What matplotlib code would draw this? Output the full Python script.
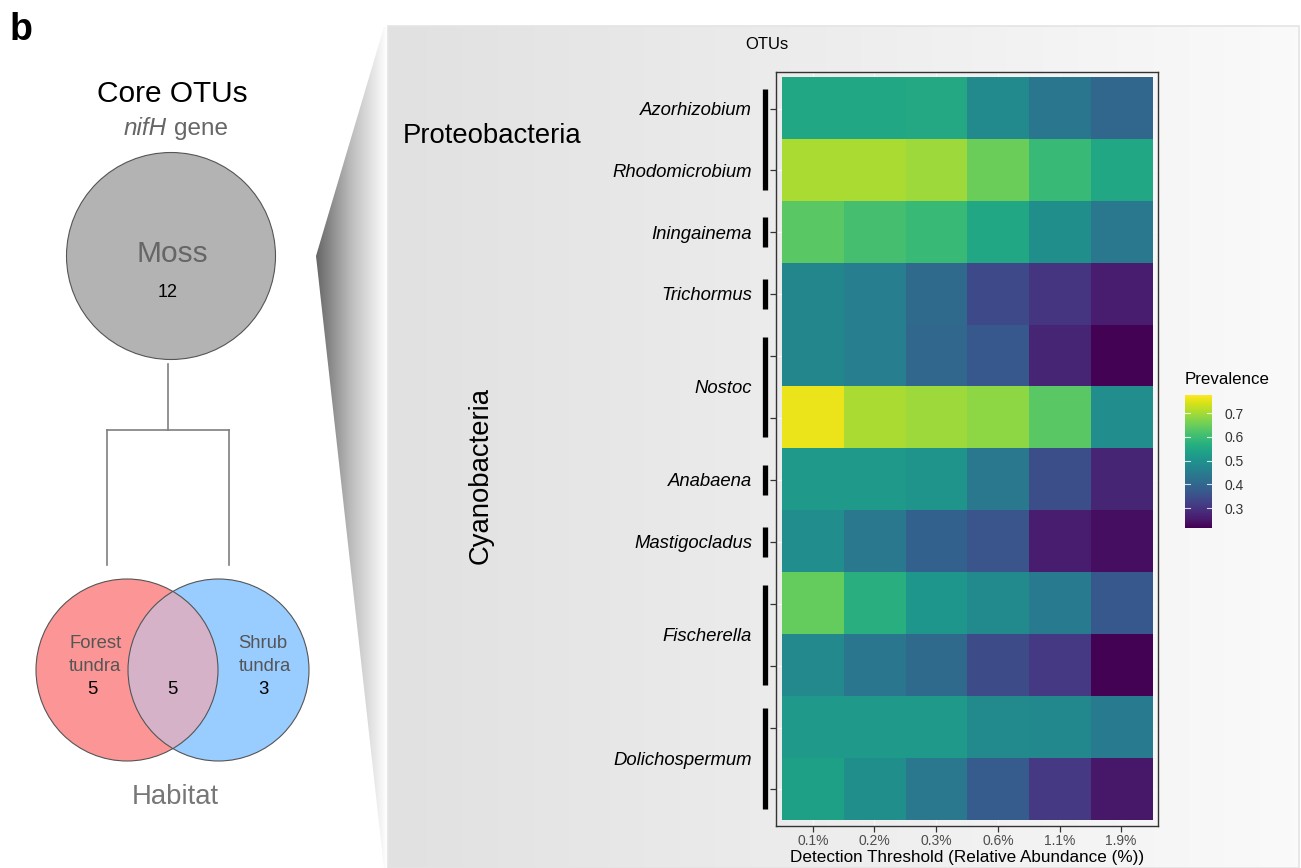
import numpy as np
import matplotlib
matplotlib.use("Agg")
import matplotlib.pyplot as plt
from matplotlib.colors import LinearSegmentedColormap
from matplotlib.patches import Ellipse, Polygon, Rectangle
import matplotlib.transforms as mtransforms

plt.rcParams['font.family'] = ['Liberation Sans', 'DejaVu Sans']

# ---- data -------------------------------------------------------------
thresholds = ['0.1%', '0.2%', '0.3%', '0.6%', '1.1%', '1.9%']

genera = ['Azorhizobium', 'Rhodomicrobium', 'Iningainema', 'Trichormus', 'Nostoc',
          'Anabaena', 'Mastigocladus', 'Fischerella', 'Dolichospermum']
genus_otu_counts = [1, 1, 1, 1, 2, 1, 1, 2, 2]

# OTU rows (top to bottom) joined by the black group bars
bar_groups = [(0, 1), (2, 2), (3, 3), (4, 5), (6, 6), (7, 7), (8, 9), (10, 11)]

prevalence = np.array([
    [0.550, 0.550, 0.553, 0.484, 0.435, 0.400],   # Azorhizobium
    [0.704, 0.704, 0.693, 0.650, 0.594, 0.550],   # Rhodomicrobium
    [0.632, 0.610, 0.594, 0.550, 0.495, 0.440],   # Iningainema
    [0.473, 0.456, 0.410, 0.340, 0.300, 0.260],   # Trichormus
    [0.473, 0.456, 0.400, 0.370, 0.275, 0.220],   # Nostoc (1)
    [0.760, 0.704, 0.693, 0.680, 0.632, 0.490],   # Nostoc (2)
    [0.520, 0.520, 0.506, 0.440, 0.350, 0.275],   # Anabaena
    [0.490, 0.440, 0.390, 0.363, 0.260, 0.236],   # Mastigocladus
    [0.643, 0.567, 0.510, 0.484, 0.445, 0.370],   # Fischerella (1)
    [0.480, 0.435, 0.410, 0.345, 0.308, 0.220],   # Fischerella (2)
    [0.520, 0.517, 0.520, 0.484, 0.478, 0.450],   # Dolichospermum (1)
    [0.534, 0.495, 0.440, 0.380, 0.308, 0.253],   # Dolichospermum (2)
])
prev_min, prev_max = 0.216, 0.776
prev_ticks = [0.3, 0.4, 0.5, 0.6, 0.7]

habitat_counts = {'Moss': 12, 'Forest': 5, 'Both': 5, 'Shrub': 3}

# ---- figure -----------------------------------------------------------
W, H = 1301, 868
fig = plt.figure(figsize=(W / 100, H / 100), dpi=100)
fig.patch.set_facecolor('white')

# canvas axes in pixel units for the schematic parts
bg = fig.add_axes([0, 0, 1, 1])
bg.set_xlim(0, W)
bg.set_ylim(H, 0)
bg.axis('off')

# grey panel with a soft left-to-right gradient
panel_cmap = LinearSegmentedColormap.from_list('panel', ['#E1E1E1', '#FAFAFA'])
bg.imshow(np.linspace(0, 1, 256)[None, :], cmap=panel_cmap, aspect='auto',
          extent=(388, 1299, H, 26), zorder=1)
bg.add_patch(Rectangle((388, 26), 911, H - 26, fill=False, ec='#E4E4E4', lw=1.2, zorder=2))

# zoom shadow wedge
shadow_cmap = LinearSegmentedColormap.from_list('shadow', ['#666666', '#BDBDBD', '#FFFFFF'])
wedge = Polygon([(316, 256), (384, 27), (388, 27), (388, H), (384, H)], closed=True,
                fc='none', ec='none')
bg.add_patch(wedge)
sh = bg.imshow(np.linspace(0, 1, 256)[None, :], cmap=shadow_cmap, aspect='auto',
               extent=(316, 387, H, 27), zorder=1)
sh.set_clip_path(wedge)

# panel label
bg.text(10, 40, 'b', fontsize=27, fontweight='bold', ha='left', va='baseline')

# core OTU title
bg.text(172, 102, 'Core OTUs', fontsize=21.5, ha='center', va='baseline')
bg.text(124, 135, 'nifH', fontsize=17.5, style='italic', color='#666666',
        ha='left', va='baseline')
bg.text(174, 135, 'gene', fontsize=17.5, color='#666666', ha='left', va='baseline')

# moss circle
bg.add_patch(Ellipse((171, 256), 209, 207, fc='#B3B3B3', ec='#555555', lw=0.8, zorder=3))
bg.text(172, 262, 'Moss', fontsize=21.5, color='#666666', ha='center', va='baseline', zorder=4)
bg.text(168, 297, str(habitat_counts['Moss']), fontsize=13, ha='center', va='baseline', zorder=4)

# connector tree
tree_kw = dict(color='#7F7F7F', lw=1.2, zorder=3)
bg.plot([168, 168], [364, 430], **tree_kw)
bg.plot([107, 229], [430, 430], **tree_kw)
bg.plot([107, 107], [430, 565], **tree_kw)
bg.plot([229, 229], [430, 565], **tree_kw)

# habitat Venn diagram
left = Ellipse((127, 670), 182, 182, fc='#FC9696', ec='none', zorder=3)
right = Ellipse((218.5, 670), 181, 182, fc='#99CCFF', ec='none', zorder=3)
bg.add_patch(left)
bg.add_patch(right)
overlap = Ellipse((127, 670), 182, 182, fc='#D5B2C8', ec='none', zorder=4)
bg.add_patch(overlap)
clip_right = Ellipse((218.5, 670), 181, 182, fc='none', ec='none', transform=bg.transData)
overlap.set_clip_path(clip_right)
bg.add_patch(Ellipse((127, 670), 182, 182, fc='none', ec='#555555', lw=0.8, zorder=5))
bg.add_patch(Ellipse((218.5, 670), 181, 182, fc='none', ec='#555555', lw=0.8, zorder=5))

venn_txt = dict(fontsize=13.3, ha='center', va='baseline', zorder=6)
bg.text(95.5, 648, 'Forest', color='#555555', **venn_txt)
bg.text(95, 671, 'tundra', color='#555555', **venn_txt)
bg.text(92, 694, str(habitat_counts['Forest']), color='black', **venn_txt)
bg.text(172, 694, str(habitat_counts['Both']), color='black', **venn_txt)
bg.text(263, 648, 'Shrub', color='#555555', **venn_txt)
bg.text(265, 671, 'tundra', color='#555555', **venn_txt)
bg.text(263, 694, str(habitat_counts['Shrub']), color='black', **venn_txt)
bg.text(175, 804, 'Habitat', fontsize=19.8, color='#777777', ha='center', va='baseline')

# phylum labels and header
bg.text(403, 143, 'Proteobacteria', fontsize=19.8, ha='left', va='baseline', zorder=3)
bg.text(481, 475, 'Cyanobacteria', fontsize=19.8, rotation=90, ha='center', va='center', zorder=3)
bg.text(767, 49, 'OTUs', fontsize=12, ha='center', va='baseline', zorder=3)

# ---- heatmap ----------------------------------------------------------
n_rows, n_cols = prevalence.shape
ax_l, ax_r, ax_t, ax_b = 776, 1158, 72, 826
ax = fig.add_axes([ax_l / W, (H - ax_b) / H, (ax_r - ax_l) / W, (ax_b - ax_t) / H])
ax.patch.set_alpha(0)
im = ax.imshow(prevalence, cmap='viridis', vmin=prev_min, vmax=prev_max, aspect='auto',
               interpolation='nearest', extent=(-0.5, n_cols - 0.5, n_rows - 0.5, -0.5), zorder=1)
ax.set_xlim(-0.597, n_cols - 1 + 0.597)
ax.set_ylim(n_rows - 1 + 0.59, -0.59)
ax.set_axisbelow(True)
ax.grid(True, color='#F8F8F8', lw=1.0)
for s in ax.spines.values():
    s.set_color('#333333')
    s.set_linewidth(1.0)

ax.set_xticks(range(n_cols))
ax.set_xticklabels(thresholds)
ax.set_yticks(range(n_rows))
ax.set_yticklabels([])
ax.tick_params(axis='x', length=4, width=0.9, color='#333333', labelsize=10,
               labelcolor='#4D4D4D', pad=2)
ax.tick_params(axis='y', length=4.3, width=0.9, color='#333333')
ax.set_xlabel('Detection Threshold (Relative Abundance (%))', fontsize=12.3, labelpad=1)

# group bars to the left of the tiles
bar_x = (765 - ax_l) / (ax_r - ax_l)
trans_bar = mtransforms.blended_transform_factory(ax.transAxes, ax.transData)
for first, last in bar_groups:
    ext = 0.31 if last > first else 0.24
    ax.plot([bar_x, bar_x], [first - ext, last + ext], color='black', lw=3.8,
            solid_capstyle='butt', transform=trans_bar, clip_on=False)

# genus labels
label_x = (752 - ax_l) / (ax_r - ax_l)
start = 0
for name, count in zip(genera, genus_otu_counts):
    centre = start + (count - 1) / 2
    ax.text(label_x, centre + 0.1, name, fontsize=13.3, style='italic', ha='right',
            va='baseline', transform=trans_bar, clip_on=False)
    start += count

# ---- colour bar -------------------------------------------------------
cb_l, cb_r, cb_t, cb_b = 1185, 1212, 395, 528
cax = fig.add_axes([cb_l / W, (H - cb_b) / H, (cb_r - cb_l) / W, (cb_b - cb_t) / H])
cb = fig.colorbar(im, cax=cax, ticks=prev_ticks)
cb.outline.set_visible(False)
cax.tick_params(length=0, labelsize=10, labelcolor='#333333', pad=9)
cax.set_yticklabels([f'{t:.1f}' for t in prev_ticks])
cb_trans = mtransforms.blended_transform_factory(cax.transAxes, cax.transData)
for t in prev_ticks:
    cax.plot([0, 0.2], [t, t], color='white', lw=0.8, alpha=0.8, transform=cb_trans)
    cax.plot([0.8, 1.0], [t, t], color='white', lw=0.8, alpha=0.8, transform=cb_trans)
bg.text(1185, 384, 'Prevalence', fontsize=12.2, ha='left', va='baseline', zorder=3)

fig.savefig('out.png', dpi=100)
